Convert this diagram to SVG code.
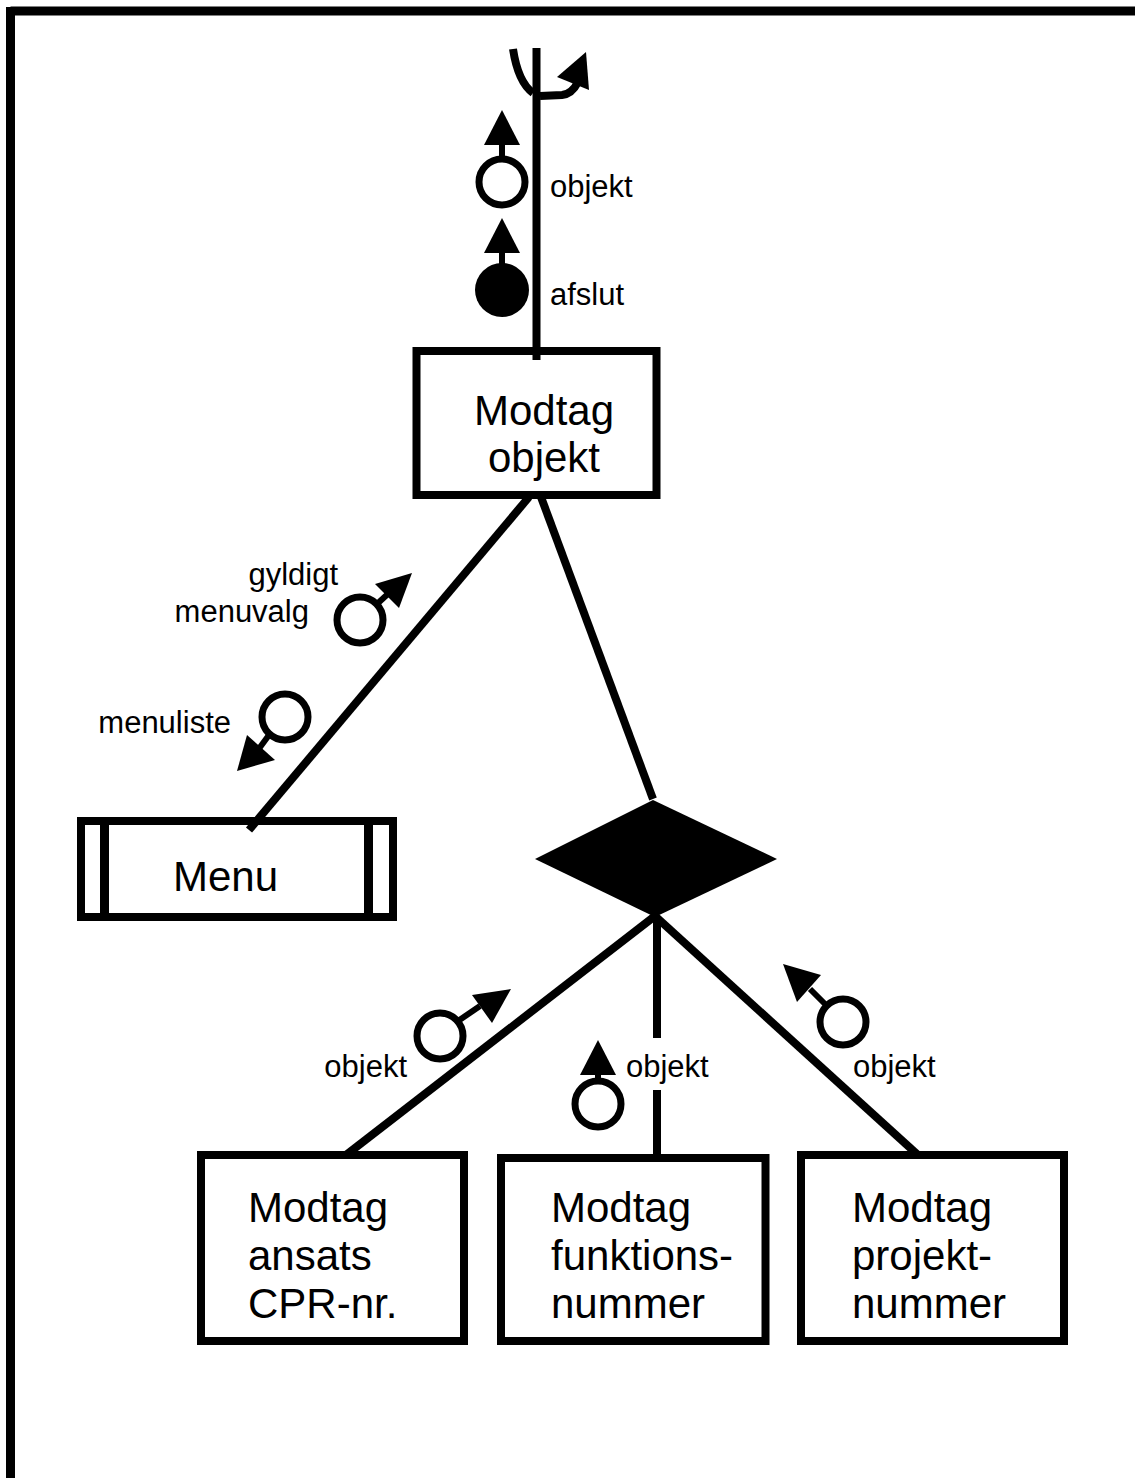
<svg xmlns="http://www.w3.org/2000/svg" width="1135" height="1478" viewBox="0 0 1135 1478">
<defs>
<style>
.ln{stroke:#000;stroke-width:8;fill:none}
.box{stroke:#000;stroke-width:8;fill:#fff}
.ring{stroke:#000;stroke-width:7;fill:#fff}
.stem{stroke:#000;stroke-width:6;fill:none}
.head{fill:#000;stroke:none}
.lbl{font-family:"Liberation Sans",Arial,sans-serif;font-size:31px;fill:#000}
.txt{font-family:"Liberation Sans",Arial,sans-serif;font-size:42px;fill:#000}
</style>
</defs>
<rect x="0" y="0" width="1135" height="1478" fill="#fff"/>
<g id="frame">
<line x1="10.5" y1="11" x2="1135" y2="11" stroke="#000" stroke-width="9"/>
<line x1="10.5" y1="7" x2="10.5" y2="1478" stroke="#000" stroke-width="9"/>
</g>
<g id="couple-objekt-top">
<circle class="ring" cx="502" cy="182" r="23"/>
<line class="stem" x1="502" y1="158" x2="502" y2="140"/>
<polygon class="head" points="502,110 520,145 484,145"/>
<text class="lbl" x="550" y="197">objekt</text>
</g>
<g id="couple-afslut">
<circle cx="502" cy="290" r="27" fill="#000"/>
<line class="stem" x1="502" y1="265" x2="502" y2="248"/>
<polygon class="head" points="502,218 520,253 484,253"/>
<text class="lbl" x="550" y="305">afslut</text>
</g>
<g id="couple-gyldigt">
<circle class="ring" cx="360" cy="620" r="23"/>
<line class="stem" x1="377" y1="604" x2="390" y2="592"/>
<polygon class="head" points="412,573 375,584 399,608"/>
<text class="lbl" x="338" y="585" text-anchor="end">gyldigt</text>
<text class="lbl" x="309" y="622" text-anchor="end">menuvalg</text>
</g>
<g id="couple-menuliste">
<circle class="ring" cx="285" cy="717" r="23"/>
<line class="stem" x1="269" y1="735" x2="258" y2="750"/>
<polygon class="head" points="237,771 247,735 275,760"/>
<text class="lbl" x="231" y="733" text-anchor="end">menuliste</text>
</g>
<g id="couple-objekt-left">
<circle class="ring" cx="440" cy="1036" r="23"/>
<line class="stem" x1="458" y1="1021" x2="480" y2="1006"/>
<polygon class="head" points="511,989 472,995 492,1023"/>
<text class="lbl" x="407" y="1077" text-anchor="end">objekt</text>
</g>
<g id="couple-objekt-mid">
<circle class="ring" cx="598" cy="1104" r="23"/>
<line class="stem" x1="598" y1="1080" x2="598" y2="1070"/>
<polygon class="head" points="598,1040 616,1075 580,1075"/>
<text class="lbl" x="626" y="1077">objekt</text>
</g>
<g id="couple-objekt-right">
<circle class="ring" cx="843" cy="1022" r="23"/>
<line class="stem" x1="826" y1="1005" x2="810" y2="989"/>
<polygon class="head" points="783,964 821,975 797,1002"/>
<text class="lbl" x="853" y="1077">objekt</text>
</g>
<g id="node-modtag-objekt">
<rect class="box" x="416.5" y="351" width="240" height="144"/>
<text class="txt" x="544" y="425" text-anchor="middle">Modtag</text>
<text class="txt" x="544" y="472" text-anchor="middle">objekt</text>
</g>
<g id="node-menu">
<rect class="box" x="81" y="821" width="312" height="96"/>
<line x1="104.5" y1="821" x2="104.5" y2="917" stroke="#000" stroke-width="9"/>
<line x1="368.5" y1="821" x2="368.5" y2="917" stroke="#000" stroke-width="9"/>
<text class="txt" x="173" y="891">Menu</text>
</g>
<g id="node-selection">
<polygon points="653,800 777,859 655,917 535,859" fill="#000"/>
</g>
<g id="node-cpr">
<rect class="box" x="201" y="1155" width="263" height="186"/>
<text class="txt" x="248" y="1222">Modtag</text>
<text class="txt" x="248" y="1270">ansats</text>
<text class="txt" x="248" y="1318">CPR-nr.</text>
</g>
<g id="node-funktion">
<rect class="box" x="501" y="1158" width="264.5" height="183"/>
<text class="txt" x="551" y="1222">Modtag</text>
<text class="txt" x="551" y="1270">funktions-</text>
<text class="txt" x="551" y="1318">nummer</text>
</g>
<g id="node-projekt">
<rect class="box" x="801" y="1155" width="263" height="186"/>
<text class="txt" x="852" y="1222">Modtag</text>
<text class="txt" x="852" y="1270">projekt-</text>
<text class="txt" x="852" y="1318">nummer</text>
</g>
<g id="connectors">
<line class="ln" x1="536.5" y1="48" x2="536.5" y2="360"/>
<path class="ln" d="M513 49 Q518 82 533 93"/>
<path class="ln" d="M540 96 L562 95 Q572 94 578 82"/>
<polygon class="head" points="586,52 589,90 557,77"/>
<line class="ln" x1="529" y1="497" x2="249" y2="830"/>
<line class="ln" x1="541" y1="497" x2="653" y2="799"/>
<line class="ln" x1="655" y1="916" x2="346" y2="1155"/>
<line class="ln" x1="657" y1="916" x2="657" y2="1038"/>
<line class="ln" x1="657" y1="1090" x2="657" y2="1158"/>
<line class="ln" x1="655" y1="916" x2="918" y2="1155"/>
</g>
</svg>
